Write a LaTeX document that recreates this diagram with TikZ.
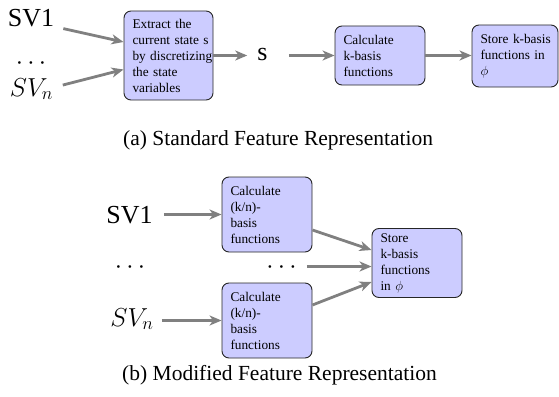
\RequirePackage{fix-cm}
\documentclass[tikz,border=0pt]{standalone}
\usepackage{fontspec}
\setmainfont{Liberation Serif}
\usetikzlibrary{arrows.meta,calc}
\begin{document}
\begin{tikzpicture}[x=1pt,y=-1pt,
  arr/.style={draw=gray, line width=2.8pt, -{Stealth[length=12pt,width=10pt,inset=3.5pt]}},
  box/.style={draw=black!85, fill=blue!20, rounded corners=7pt, line width=0.9pt, align=left,
    inner xsep=8.5pt, inner ysep=0pt, font=\fontsize{13.3}{16}\selectfont},
  big/.style={inner sep=0pt, font=\fontsize{26}{30}\selectfont, anchor=base},
  captext/.style={inner sep=0pt, font=\fontsize{21.5}{26}\selectfont, anchor=base west}]
\useasboundingbox (0,0) rectangle (559,396);

% (a) standard
\node[box, text width=72pt, minimum height=89pt] (b1) at (168.5,55.5)
  {\mbox{Extract the}\\\mbox{current state s}\\\mbox{by discretizing}\\\mbox{the state}\\\mbox{variables}};
\node[box, text width=73pt, minimum height=59pt] (b2) at (380,55.5)
  {Calculate\\k-basis\\functions};
\node[box, text width=69pt, minimum height=62pt] (b3) at (515,56)
  {\mbox{Store k-basis}\\\mbox{functions in}\\$\phi$};

\node[big] (sv1) at (31,27) {SV1};
\node[big] (dots1) at (31,69.5) {$\cdots$};
\node[big] (svn) at (31.5,96) {$SV_n$};
\node[big] (s) at (262.5,60.5) {s};

\draw[arr] ([shift={(9,10)}]sv1.east) -- ([shift={(0,-13.5)}]b1.west);
\draw[arr] ([shift={(9.5,-4)}]svn.east) -- ([shift={(0,14)}]b1.west);
\draw[arr] (b1.east) -- ($(s.west |- b1.east)+(-10,0)$);
\draw[arr] ($(s.east |- b2.west)+(21,0)$) -- (b2.west);
\draw[arr] (b2.east) -- (b2.east -| b3.west);

\node[captext] (capa) at (123,145) {(a)\ Standard Feature Representation};

% (b) modified
\node[box, text width=73pt, minimum height=75pt] (bA) at (267,214.5)
  {Calculate\\(k/n)-\\basis\\functions};
\node[box, text width=73pt, minimum height=75pt] (bB) at (267,320.5)
  {Calculate\\(k/n)-\\basis\\functions};
\node[box, text width=73pt, minimum height=69pt] (bC) at (417,263)
  {Store\\k-basis\\functions\\in $\phi$};

\node[big] (sv1b) at (129.5,223) {SV1};
\node[big] (dots2) at (130,273) {$\cdots$};
\node[big] (dots3) at (281.5,273) {$\cdots$};
\node[big] (svnb) at (132,326) {$SV_n$};

\draw[arr] ($(sv1b.east |- bA.west)+(11,0)$) -- (bA.west);
\draw[arr] ($(svnb.east |- bB.west)+(8,0)$) -- (bB.west);
\draw[arr] ([shift={(0,15.5)}]bA.east) -- ([shift={(0,-13)}]bC.west);
\draw[arr] ([shift={(0,-15.5)}]bB.east) -- ([shift={(0,19)}]bC.west);
\coordinate (dm) at ($(dots3.base east)+(0,-6.5)$);
\draw[arr] ([xshift=10pt]dm) -- (dm -| bC.west);

\node[captext] (capb) at (122,380) {(b)\ Modified Feature Representation};
\end{tikzpicture}
\end{document}
